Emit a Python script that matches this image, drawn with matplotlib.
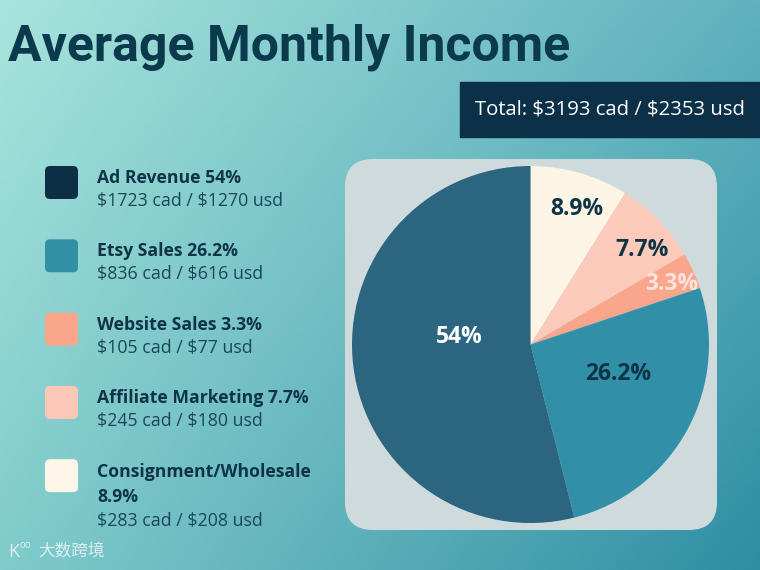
import numpy as np
import matplotlib
matplotlib.use("Agg")
import matplotlib.pyplot as plt
from matplotlib.patches import FancyBboxPatch
from matplotlib.colors import to_rgb

# data
categories = ["Ad Revenue", "Etsy Sales", "Website Sales", "Affiliate Marketing", "Consignment/Wholesale"]
shares = [54, 26.2, 3.3, 7.7, 8.9]
cad = [1723, 836, 105, 245, 283]
usd = [1270, 616, 77, 180, 208]
total_cad = 3193
total_usd = 2353

legend_colors = ["#0c2f45", "#338fa6", "#f9a68b", "#fdc7b8", "#fdf6e8"]
pie_colors = ["#2b6580", "#3190a8", "#f9a68d", "#fccaba", "#fcf5e6"]
label_colors = ["#ffffff", "#0e3446", "#fbe3da", "#0e3446", "#0e3446"]
# radial position of each label (fraction of radius) and small angle nudge (deg)
label_r = [0.40, 0.52, 0.86, 0.82, 0.80]
label_nudge = [-13, 10, -1, -4, -3]

W, H = 760, 570
fig = plt.figure(figsize=(W / 100, H / 100), dpi=100)
ax = fig.add_axes([0, 0, 1, 1])
ax.set_xlim(0, W)
ax.set_ylim(H, 0)
ax.axis("off")

# background gradient (bilinear between corner colours)
tl, tr = np.array(to_rgb("#a8e4dd")), np.array(to_rgb("#5fb2be"))
bl, br = np.array(to_rgb("#80cbcb")), np.array(to_rgb("#2f8ea3"))
u = np.linspace(0, 1, 200)[None, :, None]
v = np.linspace(0, 1, 150)[:, None, None]
grad = (1 - v) * ((1 - u) * tl + u * tr) + v * ((1 - u) * bl + u * br)
ax.imshow(grad, extent=[0, W, H, 0], aspect="auto", zorder=0)

font = "Open Sans"
dark = "#0e3446"

ax.text(8, 47, "Average Monthly Income", fontsize=36, fontweight="bold",
        color="#0c3a4d", family="Roboto", va="center", ha="left")

# total box
ax.add_patch(plt.Rectangle((460, 82), 300, 55, color="#0b3048", zorder=2))
ax.text(610, 110, f"Total: \\${total_cad} cad / \\${total_usd} usd", fontsize=14.6,
        color="white", family=font, va="center", ha="center", zorder=3)

# legend
for i, name in enumerate(categories):
    y0 = 166 + i * 73.3
    ax.add_patch(FancyBboxPatch((45, y0), 33, 33, boxstyle="round,pad=0,rounding_size=5",
                                facecolor=legend_colors[i], edgecolor="none", zorder=2))
    sub_y = y0 + 40
    if name == "Consignment/Wholesale":
        ax.text(97, y0 + 18, name, fontsize=12.7, fontweight="bold", color=dark,
                family=font, va="baseline")
        ax.text(97, y0 + 43, f"{shares[i]}%", fontsize=12.7, fontweight="bold", color=dark,
                family=font, va="baseline")
        sub_y = y0 + 67
    else:
        ax.text(97, y0 + 17, f"{name} {shares[i]:g}%", fontsize=12.7, fontweight="bold",
                color=dark, family=font, va="baseline")
    ax.text(97, sub_y, f"\\${cad[i]} cad / \\${usd[i]} usd", fontsize=12.8, color="#1b4658",
            family=font, va="baseline")

# pie panel
ax.add_patch(FancyBboxPatch((345, 159), 372, 371, boxstyle="round,pad=0,rounding_size=28",
                            facecolor="#cfdadc", edgecolor="none", zorder=1))

# watermark
ax.text(8, 552, "K", fontsize=13, color="white", alpha=0.75, family=font, va="center")
ax.text(19, 545, "oo", fontsize=7, color="white", alpha=0.75, family=font, va="center")
ax.text(38, 552, "大数跨境", fontsize=12, color="white", alpha=0.75,
        family=["Noto Sans CJK SC", "DejaVu Sans"], va="center")

# pie (clockwise from 12 o'clock: consignment, affiliate, website, etsy, ad revenue)
cx, cy, r = 530.5, 344.5, 178.5
pax = fig.add_axes([(cx - r) / W, (H - cy - r) / H, 2 * r / W, 2 * r / H])
order = [4, 3, 2, 1, 0]
vals = [shares[k] for k in order]
wedges, _ = pax.pie(vals, colors=[pie_colors[k] for k in order], startangle=90,
                    counterclock=False, radius=1, wedgeprops=dict(linewidth=0))
pax.set_xlim(-1, 1)
pax.set_ylim(-1, 1)
pax.set_aspect("equal")
pax.axis("off")
for w, k in zip(wedges, order):
    mid = np.deg2rad((w.theta1 + w.theta2) / 2 + label_nudge[k])
    rr = label_r[k]
    pax.text(rr * np.cos(mid), rr * np.sin(mid), f"{shares[k]:g}%", fontsize=16.5,
             fontweight="bold", color=label_colors[k], family=font,
             ha="center", va="center")

fig.savefig("out.png", dpi=100)
